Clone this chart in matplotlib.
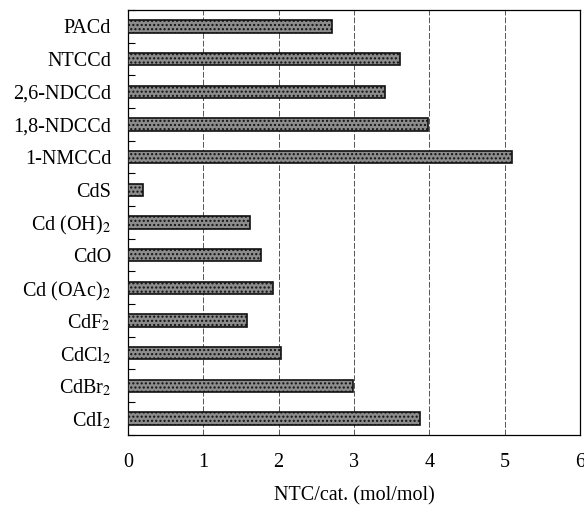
import numpy as np
import matplotlib.pyplot as plt

# Catalyseurs (de haut en bas) et activité NTC/cat.
catalysts = ['PACd', 'NTCCd', '2,6-NDCCd', '1,8-NDCCd', '1-NMCCd', 'CdS',
             'Cd (OH)$_2$', 'CdO', 'Cd (OAc)$_2$', 'CdF$_2$', 'CdCl$_2$',
             'CdBr$_2$', 'CdI$_2$']
ntc_values = [2.71, 3.61, 3.41, 3.98, 5.10, 0.20, 1.62, 1.77, 1.93, 1.58,
              2.03, 2.99, 3.88]
x_ticks = [0, 1, 2, 3, 4, 5, 6]

plt.rcParams['font.family'] = ['Liberation Serif', 'DejaVu Serif']
plt.rcParams['mathtext.fontset'] = 'stix'

fig = plt.figure(figsize=(5.84, 5.05), dpi=100)
ax = fig.add_axes([0.219, 0.139, 0.774, 0.841])

y = np.arange(len(catalysts))
ax.barh(y, ntc_values, height=0.38, color='#8c8c8c', edgecolor='#111111',
        linewidth=1.2, hatch='....', zorder=3)

ax.set_xlim(0, 6)
ax.set_ylim(len(catalysts) - 0.5, -0.5)
ax.set_xticks(x_ticks)
ax.set_xticklabels([str(t) for t in x_ticks], fontsize=14.5)
ax.set_yticks(y)
ax.set_yticklabels(catalysts, fontsize=14.5)
ax.set_yticks(np.arange(len(catalysts) + 1) - 0.5, minor=True)

ax.tick_params(axis='x', length=0, pad=13)
ax.tick_params(axis='y', which='major', length=0, pad=12)
ax.tick_params(axis='y', which='minor', direction='in', length=5, width=0.8)

ax.grid(axis='x', color='#555555', linewidth=0.7, linestyle=(0, (6, 2)), zorder=0)
for s in ax.spines.values():
    s.set_linewidth(0.9)

ax.set_xlabel('NTC/cat. (mol/mol)', fontsize=14.5, labelpad=10)

fig.savefig('out.png', dpi=100)
